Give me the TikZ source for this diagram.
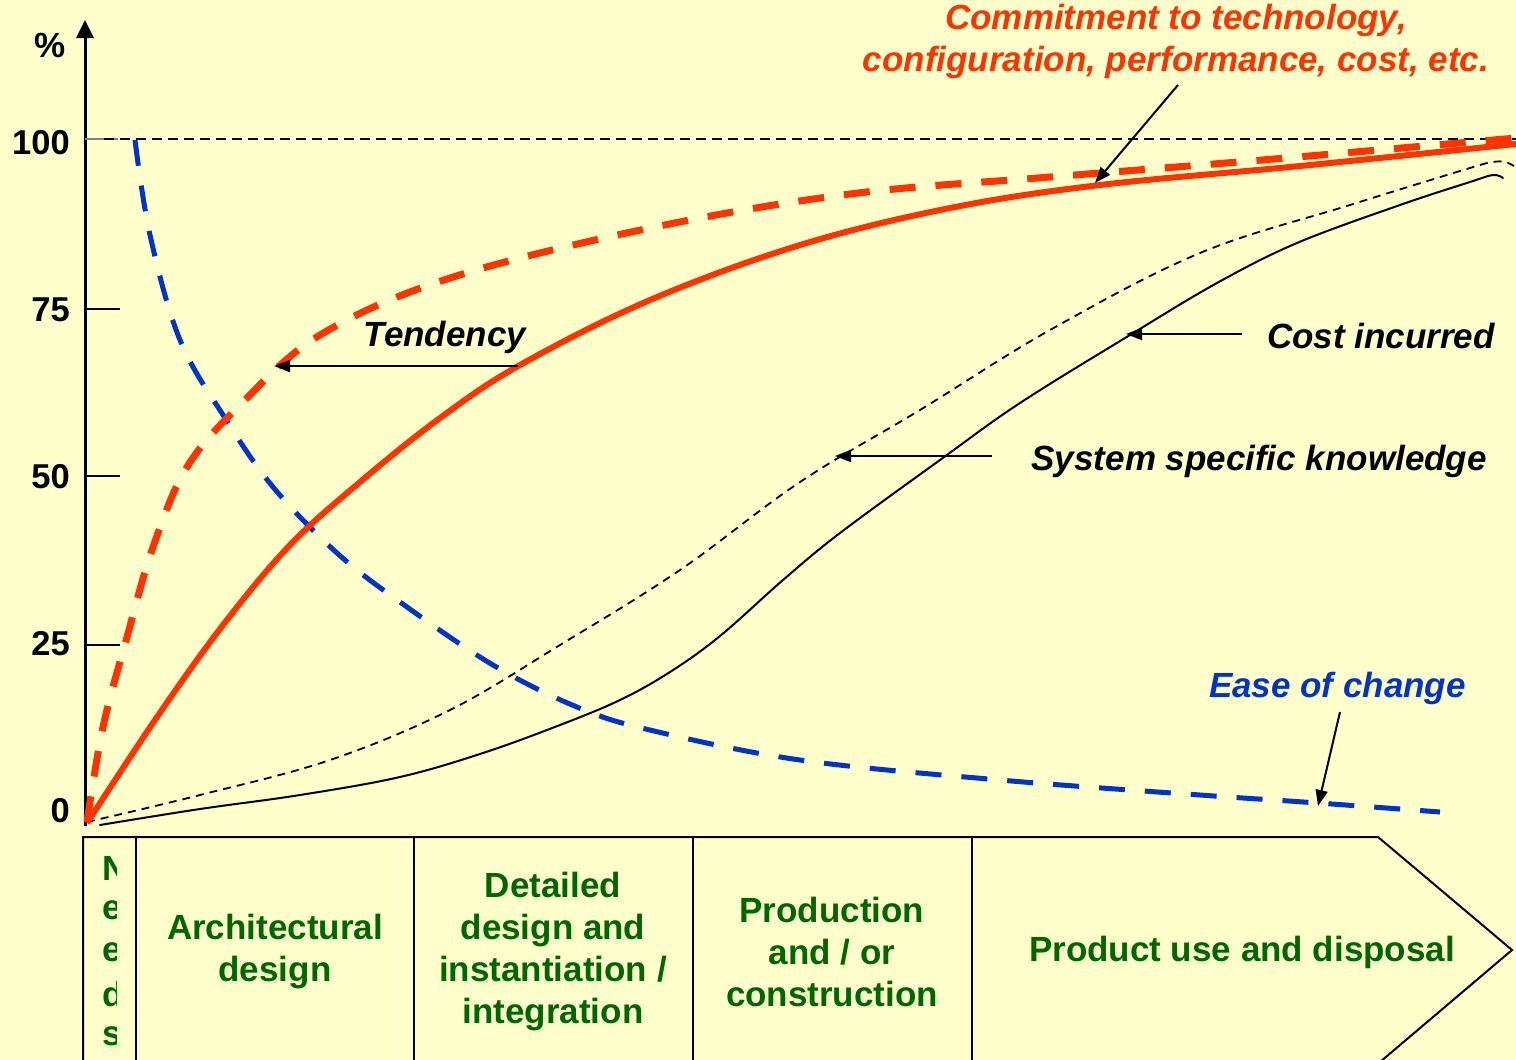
\documentclass[tikz,border=0pt]{standalone}
\usepackage{fontspec}
\setmainfont{Liberation Sans}
\usetikzlibrary{arrows.meta}
\definecolor{bg}{HTML}{FFFFCC}
\definecolor{rd}{HTML}{FF3300}
\definecolor{bl}{HTML}{0033CC}
\definecolor{gr}{HTML}{006600}
\tikzset{
  axis/.style={line width=3pt},
  tick/.style={line width=2pt},
  redsolid/.style={rd,line width=6pt},
  reddash/.style={rd,line width=7pt,dash pattern=on 26pt off 20pt},
  bluedash/.style={bl,line width=5pt,dash pattern=on 26pt off 20pt},
  thindash/.style={black,line width=1.8pt,dash pattern=on 8pt off 6pt},
  thinsolid/.style={black,line width=2pt},
  note/.style={line width=2pt,-{Triangle[length=16pt,width=12pt]}},
  lbl/.style={font=\fontsize{35}{42}\selectfont\bfseries\itshape,inner sep=0pt},
  ylab/.style={font=\fontsize{34.5}{36}\selectfont\bfseries,inner sep=0pt,anchor=east},
  phase/.style={font=\fontsize{35}{42}\selectfont\bfseries,text=gr,align=center,inner sep=0pt},
  boxline/.style={line width=2pt},
}
\begin{document}
\begin{tikzpicture}[x=1pt,y=-1pt]
\fill[bg] (0,0) rectangle (1516,1060);
\useasboundingbox (0,0) rectangle (1516,1060);
% axis
\coordinate (o) at (85,826);
\coordinate (top) at (85,20);
\draw[axis,-{Triangle[length=18pt,width=17pt]}] (o) -- (top);
\node[font=\fontsize{35}{36}\selectfont\bfseries,inner sep=0pt] (pct) at (50,45) {\%};
\node[ylab] (l100) at (70,143) {100};
\node[ylab] (l75) at (70,310) {75};
\node[ylab] (l50) at (70,477) {50};
\node[ylab] (l25) at (70,644) {25};
\node[ylab] (l0) at (70,811) {0};
\draw[tick,gray] (85,139) -- (118,139);
\draw[tick] (85,309) -- (120,309);
\draw[tick] (85,476) -- (120,476);
\draw[tick] (85,645) -- (120,645);
\draw[black,line width=2pt,dash pattern=on 10pt off 6pt] (104,139) -- (1516,139);
% curves
\draw[thinsolid,line cap=round] plot[smooth,tension=0.6] coordinates {(100,825) (200,809) (300,795) (400,777) (483,753) (560,725) (620,700) (670,672) (720,636) (783,580) (840,533) (940,460) (1020,403) (1130,335) (1217,283) (1297,243) (1400,205) (1470,182) (1493,175) (1503,178)};
\draw[thindash] plot[smooth,tension=0.6] coordinates {(87,822) (200,795) (330,760) (450,710) (560,645) (680,570) (800,482) (920,410) (1050,330) (1200,253) (1350,205) (1470,168) (1493,162) (1505,162) (1514,166)};
\draw[bluedash] plot[smooth,tension=0.6] coordinates {(135,140) (150,235) (180,340) (225,418) (273,487) (337,553) (400,602) (493,665) (577,707) (650,730) (800,760) (1000,780) (1200,795) (1318,803) (1440,812)};
\draw[reddash] plot[smooth,tension=0.6] coordinates {(87,822) (103,727) (127,637) (153,547) (187,467) (240,405) (320,335) (450,278) (650,228) (850,194) (1050,177) (1250,161) (1516,138)};
\draw[redsolid] plot[smooth,tension=0.6] coordinates {(87,823) (157,717) (223,625) (290,545) (360,482) (440,418) (520,365) (650,300) (800,245) (950,208) (1100,185) (1300,166) (1516,144)};
% labels and arrows
\node[lbl,text=rd,align=center] (commit) at (1176,41) {Commitment to technology,\\configuration, performance, cost, etc.};
\coordinate (commitS) at (1178,85);
\coordinate (commitE) at (1095,183);
\draw[note] (commitS) -- (commitE);
\node[lbl] (tend) at (445,337) {Tendency};
\coordinate (tendS) at (518,366);
\coordinate (tendE) at (274,366);
\draw[note] (tendS) -- (tendE);
\node[lbl,anchor=east] (cost) at (1495,336) {Cost incurred};
\coordinate (costS) at (1242,334);
\coordinate (costE) at (1126,334);
\draw[note] (costS) -- (costE);
\node[lbl,anchor=east] (know) at (1487,461) {System specific knowledge};
\coordinate (knowS) at (992,456);
\coordinate (knowE) at (835,456);
\draw[note] (knowS) -- (knowE);
\node[lbl,text=bl,anchor=east] (ease) at (1466,688) {Ease of change};
\coordinate (easeS) at (1340,712);
\coordinate (easeE) at (1318,806);
\draw[note] (easeS) -- (easeE);
% phase box
\draw[boxline] (83,1062) -- (83,837) -- (1378,837) -- (1512,950) -- (1380,1062);
\foreach \xx in {136,414,693,972} \draw[boxline] (\xx,837) -- (\xx,1062);
\begin{scope}
\clip (83,838) rectangle (116,1060);
\foreach \ch/\yy/\nm in {N/868/n1,e/910/n2,e/952/n3,d/994/n4,s/1036/n5}
  \node[phase,anchor=west] (\nm) at (102,\yy) {\ch};
\end{scope}
\node[phase] (arch) at (275,952) {Architectural\\design};
\node[phase] (det) at (553,952) {Detailed\\design and\\instantiation /\\integration};
\node[phase] (prod) at (832,952) {Production\\and / or\\construction};
\node[phase] (use) at (1242,952) {Product use and disposal};
\end{tikzpicture}
\end{document}
